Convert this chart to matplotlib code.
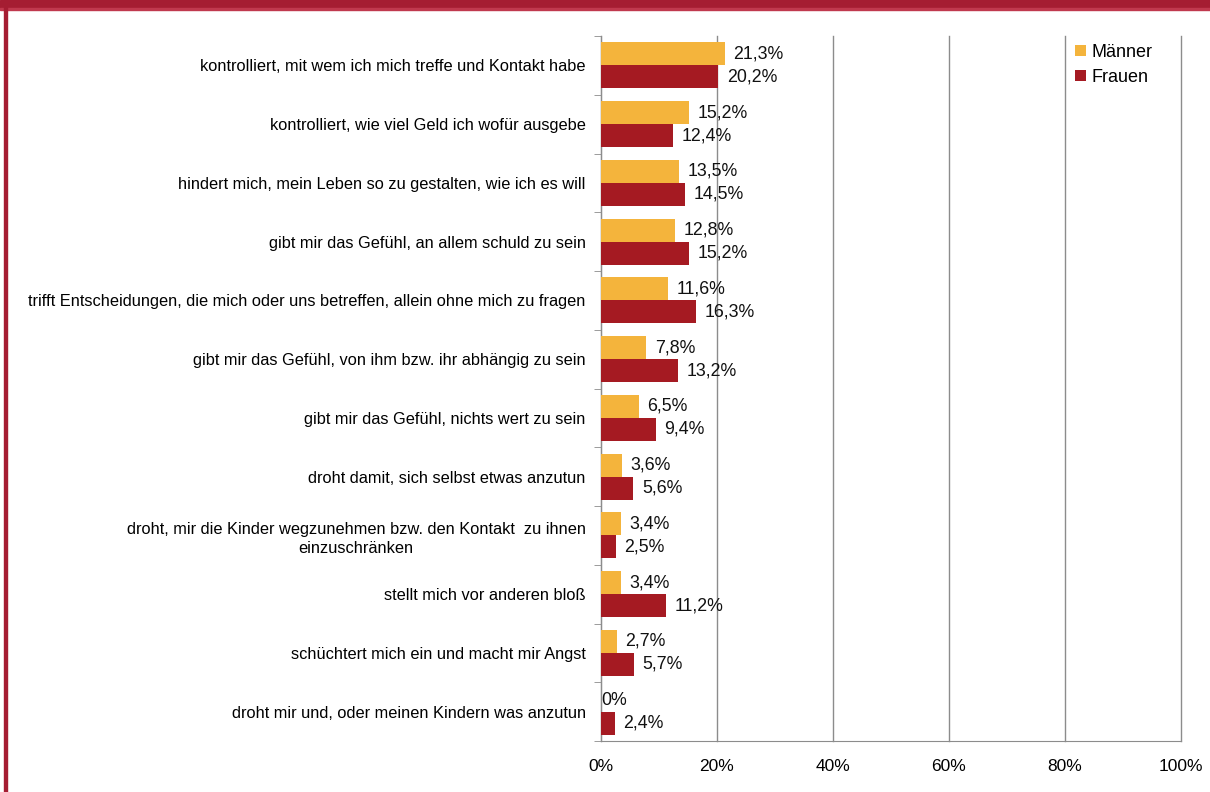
import numpy as np
import matplotlib
matplotlib.use('Agg')
import matplotlib.pyplot as plt
from matplotlib.patches import Rectangle

plt.rcParams['font.family'] = ['Liberation Sans', 'DejaVu Sans']

categories = [
    'kontrolliert, mit wem ich mich treffe und Kontakt habe',
    'kontrolliert, wie viel Geld ich wofür ausgebe',
    'hindert mich, mein Leben so zu gestalten, wie ich es will',
    'gibt mir das Gefühl, an allem schuld zu sein',
    'trifft Entscheidungen, die mich oder uns betreffen, allein ohne mich zu fragen',
    'gibt mir das Gefühl, von ihm bzw. ihr abhängig zu sein',
    'gibt mir das Gefühl, nichts wert zu sein',
    'droht damit, sich selbst etwas anzutun',
    'droht, mir die Kinder wegzunehmen bzw. den Kontakt  zu ihnen\neinzuschränken',
    'stellt mich vor anderen bloß',
    'schüchtert mich ein und macht mir Angst',
    'droht mir und, oder meinen Kindern was anzutun',
]
maenner = [21.3, 15.2, 13.5, 12.8, 11.6, 7.8, 6.5, 3.6, 3.4, 3.4, 2.7, 0.0]
frauen = [20.2, 12.4, 14.5, 15.2, 16.3, 13.2, 9.4, 5.6, 2.5, 11.2, 5.7, 2.4]
xticks = [0, 20, 40, 60, 80, 100]

col_m = '#F4B43C'
col_f = '#A51A22'
border = '#A51D32'
grid_col = '#8C8C8C'

fig = plt.figure(figsize=(12.1, 7.92), dpi=100)
ax = fig.add_axes([601/1210, 51/792, 580/1210, 705/792])

n = len(categories)
y = np.arange(n)
h = 0.39
ax.barh(y - h/2, maenner, height=h, color=col_m, label='Männer', zorder=3)
ax.barh(y + h/2, frauen, height=h, color=col_f, label='Frauen', zorder=3)

def fmt(v):
    if v == 0:
        return '0%'
    return ('%.1f%%' % v).replace('.', ',')

for i in range(n):
    ax.text(maenner[i] + 1.5 if maenner[i] > 0 else 0, y[i] - h/2, fmt(maenner[i]),
            va='center', ha='left', fontsize=12.8, color='#111111', zorder=4)
    ax.text(frauen[i] + 1.5, y[i] + h/2, fmt(frauen[i]),
            va='center', ha='left', fontsize=12.8, color='#111111', zorder=4)

ax.set_xlim(0, 100)
ax.set_ylim(n - 0.5, -0.5)
ax.set_xticks(xticks)
ax.set_xticklabels(['%d%%' % t for t in xticks], fontsize=12.5)
ax.tick_params(axis='x', length=0, pad=13)

# category labels, tick marks on group boundaries
ax.set_yticks(y)
ax.set_yticklabels(categories, fontsize=11.8, multialignment='center', linespacing=1.35)
ax.tick_params(axis='y', length=0, pad=11)
ax.set_yticks(np.arange(n + 1) - 0.5, minor=True)
ax.tick_params(axis='y', which='minor', length=5, color=grid_col)

ax.xaxis.grid(True, color=grid_col, linewidth=1)
for gl in ax.get_xgridlines():
    gl.set_clip_on(False)
ax.set_axisbelow(True)
for s in ['top', 'right']:
    ax.spines[s].set_visible(False)
ax.spines['left'].set_color(grid_col)
ax.spines['bottom'].set_color(grid_col)

leg = ax.legend(loc='upper left', bbox_to_anchor=(0.79, 1.012), frameon=False,
                fontsize=13, handlelength=0.6, handleheight=0.6,
                handletextpad=0.3, labelspacing=0.45)

# red frame
fig.patches.append(Rectangle((0, 1 - 8/792), 1, 8/792, transform=fig.transFigure,
                             color=border, zorder=0))
fig.patches.append(Rectangle((0, 1 - 10/792), 1, 2/792, transform=fig.transFigure,
                             color='#C0394E', zorder=0))
fig.patches.append(Rectangle((4/1210, 0), 3/1210, 1, transform=fig.transFigure,
                             color=border, zorder=0))

plt.savefig('out.png', dpi=100)
